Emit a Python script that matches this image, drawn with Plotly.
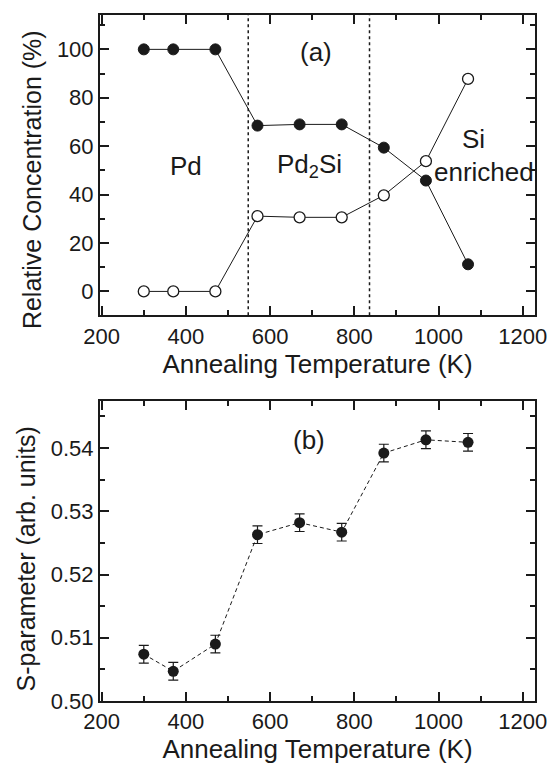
import plotly.graph_objects as go

# ---- data ----
temps = [300, 370, 470, 570, 670, 770, 870, 970, 1070]
pd_conc = [100, 100, 100, 68.5, 69.0, 69.0, 59.4, 45.8, 11.2]
si_conc = [0, 0, 0, 31.1, 30.6, 30.6, 39.7, 53.8, 87.8]
conc_err = [1.6] * 9
s_param = [0.5074, 0.5047, 0.5090, 0.5263, 0.5282, 0.5267, 0.5392, 0.5413, 0.5409]
s_err = [0.0014] * 9
phase_bounds = [548, 836]

FONT = "Liberation Sans, Arial, sans-serif"
INK = "#1a1a1a"

fig = go.Figure()

fig.add_trace(go.Scatter(
    x=temps, y=pd_conc, xaxis="x", yaxis="y", mode="lines+markers",
    line=dict(color=INK, width=1),
    marker=dict(symbol="circle", size=11, color=INK, line=dict(color=INK, width=1)),
    error_y=dict(type="data", array=conc_err, color=INK, thickness=1, width=3),
    showlegend=False))
fig.add_trace(go.Scatter(
    x=temps, y=si_conc, xaxis="x", yaxis="y", mode="lines+markers",
    line=dict(color=INK, width=1),
    marker=dict(symbol="circle", size=11, color="white", line=dict(color=INK, width=1.3)),
    error_y=dict(type="data", array=conc_err, color=INK, thickness=1, width=3),
    showlegend=False))
fig.add_trace(go.Scatter(
    x=temps, y=s_param, xaxis="x2", yaxis="y2", mode="lines+markers",
    line=dict(color=INK, width=1, dash="4px,3px"),
    marker=dict(symbol="circle", size=11, color=INK),
    error_y=dict(type="data", array=s_err, color=INK, thickness=1.2, width=5),
    showlegend=False))

for xb in phase_bounds:
    fig.add_shape(type="line", xref="x", yref="y domain", x0=xb, x1=xb, y0=0, y1=1,
                  line=dict(color=INK, width=1.5, dash="dot"))

axis_common = dict(
    showline=True, linecolor=INK, linewidth=2, mirror="ticks",
    ticks="inside", ticklen=9, tickwidth=1.5, tickcolor=INK,
    showgrid=False, zeroline=False,
    tickfont=dict(family=FONT, size=22, color=INK),
    title_font=dict(family=FONT, size=26, color=INK),
)

xcommon = dict(axis_common, range=[196, 1229], tickmode="array",
               tickvals=[200, 400, 600, 800, 1000, 1200],
               minor=dict(tickvals=[300, 500, 700, 900, 1100], ticklen=5,
                          tickwidth=1.5, tickcolor=INK, ticks="inside"))

fig.update_layout(
    width=559, height=770,
    margin=dict(l=100, r=17, t=15, b=67),
    paper_bgcolor="white", plot_bgcolor="white",
    xaxis=dict(xcommon, anchor="y", domain=[0, 1],
               title=dict(text="Annealing Temperature (K)", standoff=5)),
    yaxis=dict(axis_common, anchor="x", domain=[0.5625, 1], range=[-9.8, 114.2],
               tickmode="array", tickvals=[0, 20, 40, 60, 80, 100],
               minor=dict(tickvals=[10, 30, 50, 70, 90, 110], ticklen=5,
                          tickwidth=1.5, tickcolor=INK, ticks="inside")),
    xaxis2=dict(xcommon, anchor="y2", domain=[0, 1],
                title=dict(text="Annealing Temperature (K)", standoff=5)),
    yaxis2=dict(axis_common, anchor="x2", domain=[0, 0.437], range=[0.5, 0.5474],
                tickmode="array", tickvals=[0.50, 0.51, 0.52, 0.53, 0.54],
                ticktext=["0.50", "0.51", "0.52", "0.53", "0.54"],
                minor=dict(tickvals=[0.505, 0.515, 0.525, 0.535, 0.545], ticklen=5,
                           tickwidth=1.5, tickcolor=INK, ticks="inside")),
)

title_font = dict(family=FONT, size=25, color=INK)
fig.add_annotation(text="Relative Concentration (%)", textangle=-90, showarrow=False,
                   xref="paper", yref="paper", x=-0.156, y=0.7595,
                   xanchor="center", yanchor="middle", font=title_font)
fig.add_annotation(text="S-parameter (arb. units)", textangle=-90, showarrow=False,
                   xref="paper", yref="paper", x=-0.170, y=0.2064,
                   xanchor="center", yanchor="middle", font=title_font)

ann_font = dict(family=FONT, size=26, color=INK)
annotations = [
    dict(x=708, y=99, xref="x", yref="y", text="(a)"),
    dict(x=400, y=52, xref="x", yref="y", text="Pd"),
    dict(x=693, y=52, xref="x", yref="y", text="Pd<sub>2</sub>Si"),
    dict(x=1083, y=63, xref="x", yref="y", text="Si"),
    dict(x=1108, y=49.4, xref="x", yref="y", text="enriched"),
    dict(x=692, y=0.5412, xref="x2", yref="y2", text="(b)"),
]
for a in annotations:
    fig.add_annotation(**a, showarrow=False, font=ann_font)

fig.write_html("out.html")
